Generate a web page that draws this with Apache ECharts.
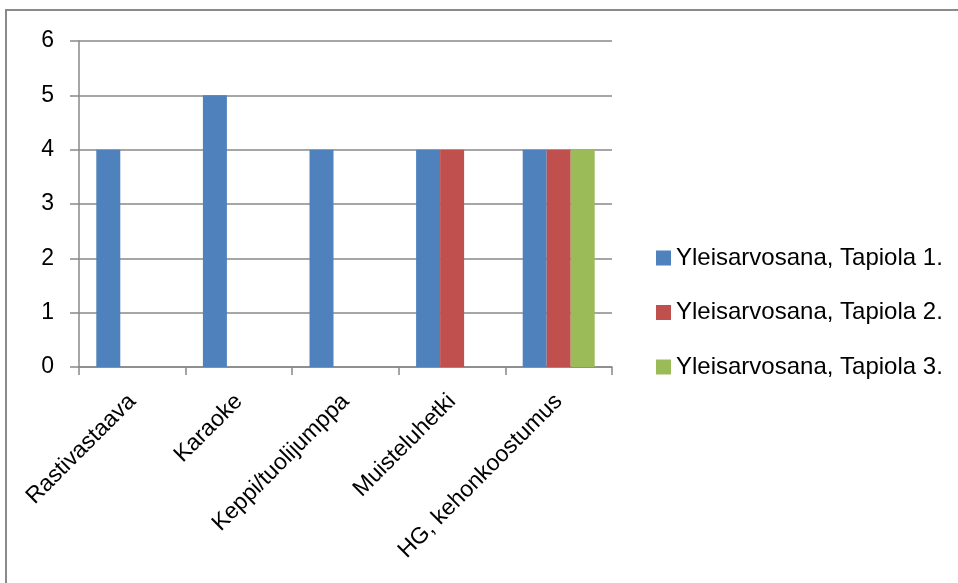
<!DOCTYPE html>
<html>
<head>
<meta charset="utf-8">
<title>Yleisarvosana</title>
<script src="https://cdn.jsdelivr.net/npm/echarts@6/dist/echarts.min.js"></script>
<style>
  html, body { margin: 0; padding: 0; background: #fff; }
  #chart { width: 958px; height: 583px; }
</style>
</head>
<body>
<div id="chart"></div>
<script>
// Activities rated, one bar per Tapiola group
const categories = ['Rastivastaava', 'Karaoke', 'Keppi/tuolijumppa', 'Muisteluhetki', 'HG, kehonkoostumus'];
const seriesNames = ['Yleisarvosana, Tapiola 1.', 'Yleisarvosana, Tapiola 2.', 'Yleisarvosana, Tapiola 3.'];
const tapiola1 = [4, 5, 4, 4, 4];
const tapiola2 = [null, null, null, 4, 4];
const tapiola3 = [null, null, null, null, 4];
const yTicks = { min: 0, max: 6, interval: 1 };

const colors = ['#4F81BD', '#C0504D', '#9BBB59'];
const gridGray = '#888888';
const font = '"Liberation Sans", Arial, sans-serif';

const chart = echarts.init(document.getElementById('chart'), null, { renderer: 'canvas' });

chart.setOption({
  animation: false,
  backgroundColor: '#ffffff',
  color: colors,
  textStyle: { fontFamily: font },
  graphic: [{
    type: 'rect',
    shape: { x: 6, y: 10, width: 1000, height: 1000 },
    style: { fill: 'none', stroke: '#8a8a8a', lineWidth: 2 },
    silent: true
  }],
  legend: {
    orient: 'vertical',
    left: 651,
    top: 241,
    itemWidth: 15,
    itemHeight: 15,
    itemGap: 30.5,
    icon: 'rect',
    textStyle: { fontSize: 24, color: '#000', fontFamily: font },
    data: seriesNames
  },
  grid: { left: 79, right: 346, top: 41, bottom: 216, containLabel: false },
  xAxis: {
    type: 'category',
    data: categories,
    axisLine: { show: true, lineStyle: { color: gridGray, width: 1.5 } },
    axisTick: { show: true, length: 8, lineStyle: { color: gridGray, width: 1.5 } },
    axisLabel: { interval: 0, rotate: 45, fontSize: 23, color: '#000', margin: 31, fontFamily: font }
  },
  yAxis: {
    type: 'value',
    min: yTicks.min,
    max: yTicks.max,
    interval: yTicks.interval,
    axisLine: { show: true, lineStyle: { color: gridGray, width: 1.5 } },
    axisTick: { show: true, length: 9, lineStyle: { color: gridGray, width: 1.5 } },
    splitLine: { show: true, lineStyle: { color: gridGray, width: 1.5 } },
    axisLabel: { fontSize: 23, color: '#000', margin: 25, fontFamily: font }
  },
  series: [
    { name: seriesNames[0], type: 'bar', data: tapiola1, barWidth: 24, barGap: '0%' },
    { name: seriesNames[1], type: 'bar', data: tapiola2, barWidth: 24, barGap: '0%' },
    { name: seriesNames[2], type: 'bar', data: tapiola3, barWidth: 24, barGap: '0%' }
  ]
});
</script>
</body>
</html>
